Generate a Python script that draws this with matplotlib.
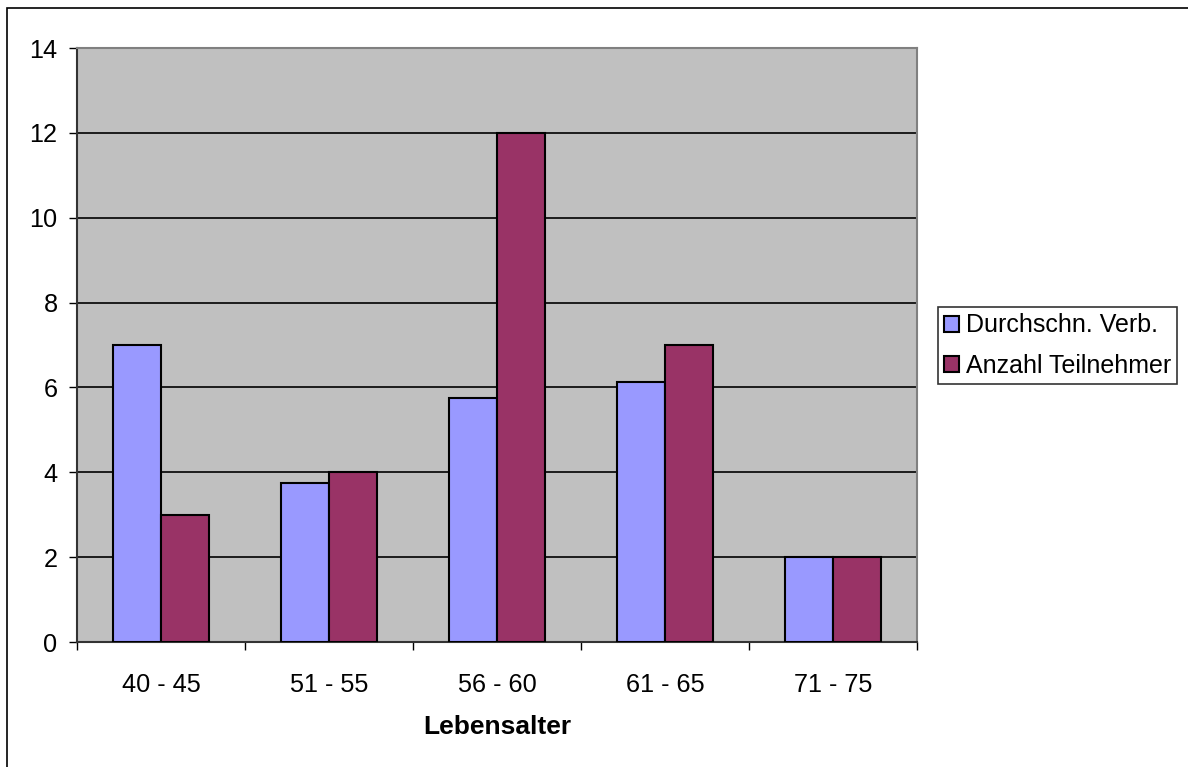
import numpy as np
import matplotlib.pyplot as plt
from matplotlib.patches import Rectangle

plt.rcParams['font.family'] = ['Liberation Sans', 'DejaVu Sans']

# Daten
kategorien = ['40 - 45', '51 - 55', '56 - 60', '61 - 65', '71 - 75']
durchschn_verb = [7, 3.75, 5.75, 6.125, 2]
anzahl_teilnehmer = [3, 4, 12, 7, 2]
yticks = [0, 2, 4, 6, 8, 10, 12, 14]

W, H = 1188, 767
fig = plt.figure(figsize=(W / 100, H / 100), dpi=100)
ax = fig.add_axes([77 / W, 1 - 642 / H, (917 - 77) / W, (642 - 48) / H])

# Rahmen um das ganze Diagramm
fig.patches.append(Rectangle((7 / W, -0.1), 1.2, 1 - 8 / H + 0.1, transform=fig.transFigure,
                             fill=False, edgecolor='black', linewidth=1.2, zorder=0))

x = np.arange(len(kategorien))
bw = 48 / 168
ax.bar(x - bw / 2, durchschn_verb, bw, color='#9999FF', edgecolor='black', linewidth=1.5,
       label='Durchschn. Verb.', zorder=3)
ax.bar(x + bw / 2, anzahl_teilnehmer, bw, color='#993366', edgecolor='black', linewidth=1.5,
       label='Anzahl Teilnehmer', zorder=3)

ax.set_facecolor('#C0C0C0')
ax.set_xlim(-0.5, len(kategorien) - 0.5)
ax.set_ylim(0, 14)
ax.set_yticks(yticks)
ax.tick_params(axis='y', labelsize=18.2, length=6, width=1, direction='out', pad=8)
ax.set_xticks(np.arange(len(kategorien) + 1) - 0.5)
ax.set_xticklabels([])
ax.set_xticks(x, minor=True)
ax.set_xticklabels(kategorien, minor=True)
ax.tick_params(axis='x', which='major', length=6, width=1, direction='out')
ax.tick_params(axis='x', which='minor', length=0, labelsize=18.2, pad=22)

for v in yticks[1:-1]:
    ax.axhline(v, color='black', linewidth=1.2, zorder=1)

ax.spines['left'].set_color('#333333')
ax.spines['bottom'].set_color('#333333')
ax.spines['left'].set_linewidth(1.5)
ax.spines['bottom'].set_linewidth(1.5)
ax.spines['top'].set_color('#808080')
ax.spines['right'].set_color('#808080')
ax.spines['top'].set_linewidth(1.5)
ax.spines['right'].set_linewidth(1.5)

ax.set_xlabel('Lebensalter', fontsize=19, fontweight='bold', labelpad=13)

leg = ax.legend(loc='center left', bbox_to_anchor=(938 / W, 1 - 345.5 / H),
                bbox_transform=fig.transFigure, fontsize=18, frameon=True, fancybox=False,
                edgecolor='black', handlelength=0.6, handleheight=0.6, handletextpad=0.25,
                borderpad=0.25, labelspacing=0.65, borderaxespad=0)
leg.get_frame().set_linewidth(1.2)

fig.savefig('out.png', dpi=100)
